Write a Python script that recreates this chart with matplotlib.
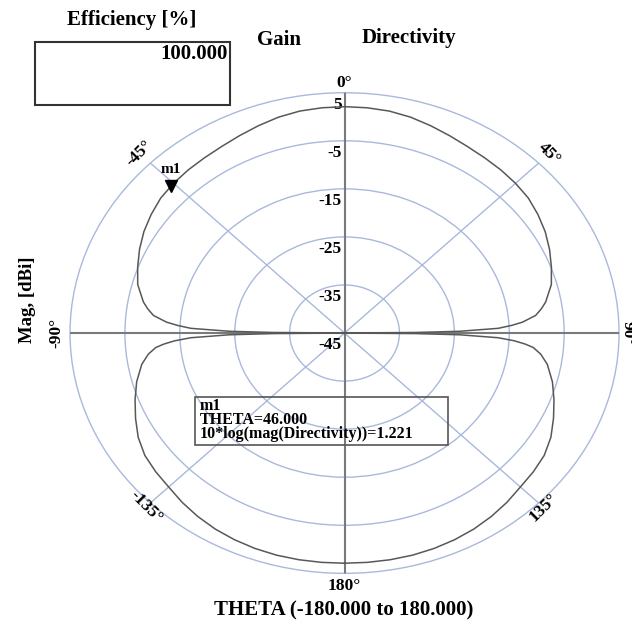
"""Polar directivity pattern, HFSS-style far-field plot."""

import matplotlib.pyplot as plt
from matplotlib.patches import Rectangle
import numpy as np

# Directivity, 0..180 deg (pattern is symmetric in theta)
theta_half = [0, 5, 10, 15, 20, 25, 30, 35, 40, 45, 50, 55, 60, 65, 70, 75,
              80, 82, 84, 86, 87, 88, 89, 89.5, 90,
              90.5, 91, 92, 93, 94, 95, 97, 100, 105, 110, 115, 120, 125,
              130, 135, 140, 145, 150, 155, 160, 165, 170, 175, 180]
dir_half = [2.1, 2.05, 1.9, 1.5, 0.9, 0.3, -0.2, -0.5, -0.7, -0.95, -1.3,
            -2.0, -2.8, -3.8, -4.9, -6.0, -7.8, -8.8, -10.0, -12.5, -14.5,
            -17.0, -24.0, -32.0, -45.0,
            -32.0, -24.0, -17.0, -14.0, -12.0, -10.5, -9.0, -7.5, -5.8,
            -4.4, -3.0, -1.6, -0.6, -0.1, 0.3, 1.0, 1.6, 2.1, 2.45, 2.7,
            2.85, 2.9, 2.9, 2.9]

theta_deg = [-t for t in theta_half[:0:-1]] + theta_half
dir_db = dir_half[:0:-1] + dir_half

r_ticks = [5, -5, -15, -25, -35, -45]
theta_ticks = [0, 45, 90, 135, 180, -135, -90, -45]
marker_theta = -46
marker_val = -1.0

FONT = 'Liberation Serif'
GRID = '#a9b9dc'
AXIS = '#7a7a7a'

fig = plt.figure(figsize=(6.32, 6.27), dpi=100)
ax = fig.add_axes([0.1108, 0.0856, 0.8687, 0.7665], projection='polar')
ax.set_aspect('auto')
ax.set_theta_zero_location('N')
ax.set_theta_direction(-1)
ax.set_ylim(-45, 5)

# grid: light blue rings and diagonals
ax.set_rgrids([-35, -25, -15, -5], labels=[])
ax.set_thetagrids([45, 135, 225, 315], labels=[])
ax.grid(True, color=GRID, linewidth=1.0)
ax.spines['polar'].set_color(GRID)
ax.spines['polar'].set_linewidth(1.0)

# main axes lines (0/180 and +-90)
for t in [0, 90, 180, 270]:
    ax.plot(np.radians([t, t]), [-45, 5], color=AXIS, lw=1.5, zorder=3)

# pattern
ax.plot(np.radians(theta_deg), dir_db, color='#585858', lw=1.1, zorder=4)

# marker m1
ax.plot(np.radians(marker_theta), marker_val, marker='v', color='black',
        markersize=9, zorder=5, clip_on=False)
ax.annotate('m1', (np.radians(marker_theta), marker_val), xytext=(0, 7),
            textcoords='offset points', ha='center', va='bottom',
            fontfamily=FONT, fontweight='bold', fontsize=11)

# radial tick labels along the 0 deg line
for r in r_ticks:
    ax.annotate(str(r), (0, r), xytext=(-2, -3), textcoords='offset points',
                ha='right', va='top', fontfamily=FONT, fontweight='bold',
                fontsize=12.5)

# theta labels, rotated along the outer ring
label_r = {0: 7.1, 45: 7.8, -45: 7.8, 90: 6.6, -90: 7.4,
           135: 6.2, -135: 6.2, 180: 7.6}
for t in theta_ticks:
    rot = -t
    if rot > 90:
        rot -= 180
    if rot < -90:
        rot += 180
    if abs(t) == 90:
        rot = -t
    ax.text(np.radians(t), label_r[t], f'{t}°', ha='center', va='center',
            rotation=rot, rotation_mode='anchor', fontfamily=FONT,
            fontweight='bold', fontsize=12.5, clip_on=False)

# header texts
fig.text(132 / 632, 1 - 20 / 627, 'Efficiency [%]', ha='center',
         va='center', fontfamily=FONT, fontweight='bold', fontsize=15)
fig.add_artist(Rectangle((35 / 632, 1 - 105 / 627), 195 / 632, 63 / 627,
                         transform=fig.transFigure, fill=False,
                         edgecolor='#333333', lw=1.5))
fig.text(228 / 632, 1 - 44 / 627, '100.000', ha='right', va='top',
         fontfamily=FONT, fontweight='bold', fontsize=15)
fig.text(279 / 632, 1 - 40 / 627, 'Gain', ha='center', va='center',
         fontfamily=FONT, fontweight='bold', fontsize=15)
fig.text(409 / 632, 1 - 38 / 627, 'Directivity', ha='center', va='center',
         fontfamily=FONT, fontweight='bold', fontsize=15)

# axis labels
fig.text(344 / 632, 1 - 610 / 627, 'THETA (-180.000 to 180.000)',
         ha='center', va='center', fontfamily=FONT, fontweight='bold',
         fontsize=15)
fig.text(27 / 632, 1 - 300 / 627, 'Mag, [dBi]', ha='center', va='center',
         rotation=90, fontfamily=FONT, fontweight='bold', fontsize=13.5)

# marker readout box
fig.add_artist(Rectangle((195 / 632, 1 - 445 / 627), 253 / 632, 48 / 627,
                         transform=fig.transFigure, fill=False,
                         edgecolor='#555555', lw=1.2))
fig.text(200 / 632, 1 - 398 / 627,
         'm1\nTHETA=46.000\n10*log(mag(Directivity))=1.221',
         ha='left', va='top', linespacing=0.85, fontfamily=FONT,
         fontweight='bold', fontsize=11.5)

fig.savefig('out.png', dpi=100)
